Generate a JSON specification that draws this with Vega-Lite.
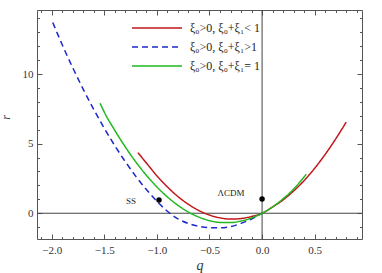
{
  "$schema": "https://vega.github.io/schema/vega-lite/v6.json",
  "width": 325,
  "height": 229,
  "autosize": {"type": "none"},
  "padding": {"left": 37, "top": 10, "right": 20, "bottom": 34},
  "background": "white",
  "config": {
    "view": {"stroke": "#555555", "strokeWidth": 1},
    "axis": {
      "grid": false,
      "domain": false,
      "labelFont": "Liberation Serif",
      "labelFontSize": 11,
      "labelColor": "#333333",
      "tickColor": "#555555",
      "titleFont": "Liberation Serif",
      "titleFontStyle": "italic",
      "titleFontWeight": "normal",
      "titleColor": "#333333"
    },
    "legend": {
      "labelFont": "Liberation Serif",
      "labelFontSize": 12,
      "labelColor": "#222222"
    }
  },
  "datasets": {
    "curves": [
      {"q": -1.18, "r": 4.35, "s": "ξ₀>0, ξ₀+ξ₁< 1"},
      {"q": -1.1, "r": 3.61, "s": "ξ₀>0, ξ₀+ξ₁< 1"},
      {"q": -1.0, "r": 2.69, "s": "ξ₀>0, ξ₀+ξ₁< 1"},
      {"q": -0.9, "r": 1.89, "s": "ξ₀>0, ξ₀+ξ₁< 1"},
      {"q": -0.8, "r": 1.2, "s": "ξ₀>0, ξ₀+ξ₁< 1"},
      {"q": -0.7, "r": 0.64, "s": "ξ₀>0, ξ₀+ξ₁< 1"},
      {"q": -0.6, "r": 0.19, "s": "ξ₀>0, ξ₀+ξ₁< 1"},
      {"q": -0.5, "r": -0.13, "s": "ξ₀>0, ξ₀+ξ₁< 1"},
      {"q": -0.4, "r": -0.33, "s": "ξ₀>0, ξ₀+ξ₁< 1"},
      {"q": -0.3, "r": -0.42, "s": "ξ₀>0, ξ₀+ξ₁< 1"},
      {"q": -0.2, "r": -0.38, "s": "ξ₀>0, ξ₀+ξ₁< 1"},
      {"q": -0.1, "r": -0.23, "s": "ξ₀>0, ξ₀+ξ₁< 1"},
      {"q": 0.0, "r": 0.0, "s": "ξ₀>0, ξ₀+ξ₁< 1"},
      {"q": 0.1, "r": 0.45, "s": "ξ₀>0, ξ₀+ξ₁< 1"},
      {"q": 0.2, "r": 0.96, "s": "ξ₀>0, ξ₀+ξ₁< 1"},
      {"q": 0.3, "r": 1.6, "s": "ξ₀>0, ξ₀+ξ₁< 1"},
      {"q": 0.4, "r": 2.35, "s": "ξ₀>0, ξ₀+ξ₁< 1"},
      {"q": 0.5, "r": 3.23, "s": "ξ₀>0, ξ₀+ξ₁< 1"},
      {"q": 0.6, "r": 4.23, "s": "ξ₀>0, ξ₀+ξ₁< 1"},
      {"q": 0.7, "r": 5.34, "s": "ξ₀>0, ξ₀+ξ₁< 1"},
      {"q": 0.8, "r": 6.55, "s": "ξ₀>0, ξ₀+ξ₁< 1"},
      {"q": -1.99, "r": 13.7, "s": "ξ₀>0, ξ₀+ξ₁>1"},
      {"q": -1.9, "r": 12.1, "s": "ξ₀>0, ξ₀+ξ₁>1"},
      {"q": -1.8, "r": 10.45, "s": "ξ₀>0, ξ₀+ξ₁>1"},
      {"q": -1.7, "r": 8.9, "s": "ξ₀>0, ξ₀+ξ₁>1"},
      {"q": -1.6, "r": 7.45, "s": "ξ₀>0, ξ₀+ξ₁>1"},
      {"q": -1.5, "r": 6.1, "s": "ξ₀>0, ξ₀+ξ₁>1"},
      {"q": -1.4, "r": 4.85, "s": "ξ₀>0, ξ₀+ξ₁>1"},
      {"q": -1.3, "r": 3.7, "s": "ξ₀>0, ξ₀+ξ₁>1"},
      {"q": -1.2, "r": 2.65, "s": "ξ₀>0, ξ₀+ξ₁>1"},
      {"q": -1.1, "r": 1.7, "s": "ξ₀>0, ξ₀+ξ₁>1"},
      {"q": -1.0, "r": 0.86, "s": "ξ₀>0, ξ₀+ξ₁>1"},
      {"q": -0.9, "r": 0.14, "s": "ξ₀>0, ξ₀+ξ₁>1"},
      {"q": -0.8, "r": -0.4, "s": "ξ₀>0, ξ₀+ξ₁>1"},
      {"q": -0.7, "r": -0.74, "s": "ξ₀>0, ξ₀+ξ₁>1"},
      {"q": -0.6, "r": -0.94, "s": "ξ₀>0, ξ₀+ξ₁>1"},
      {"q": -0.5, "r": -1.03, "s": "ξ₀>0, ξ₀+ξ₁>1"},
      {"q": -0.4, "r": -1.05, "s": "ξ₀>0, ξ₀+ξ₁>1"},
      {"q": -0.3, "r": -0.96, "s": "ξ₀>0, ξ₀+ξ₁>1"},
      {"q": -0.2, "r": -0.73, "s": "ξ₀>0, ξ₀+ξ₁>1"},
      {"q": -0.1, "r": -0.41, "s": "ξ₀>0, ξ₀+ξ₁>1"},
      {"q": 0.0, "r": 0.0, "s": "ξ₀>0, ξ₀+ξ₁>1"},
      {"q": -1.54, "r": 7.9, "s": "ξ₀>0, ξ₀+ξ₁= 1"},
      {"q": -1.5, "r": 7.26, "s": "ξ₀>0, ξ₀+ξ₁= 1"},
      {"q": -1.4, "r": 5.95, "s": "ξ₀>0, ξ₀+ξ₁= 1"},
      {"q": -1.3, "r": 4.76, "s": "ξ₀>0, ξ₀+ξ₁= 1"},
      {"q": -1.2, "r": 3.68, "s": "ξ₀>0, ξ₀+ξ₁= 1"},
      {"q": -1.1, "r": 2.73, "s": "ξ₀>0, ξ₀+ξ₁= 1"},
      {"q": -1.0, "r": 1.89, "s": "ξ₀>0, ξ₀+ξ₁= 1"},
      {"q": -0.9, "r": 1.17, "s": "ξ₀>0, ξ₀+ξ₁= 1"},
      {"q": -0.8, "r": 0.57, "s": "ξ₀>0, ξ₀+ξ₁= 1"},
      {"q": -0.7, "r": 0.08, "s": "ξ₀>0, ξ₀+ξ₁= 1"},
      {"q": -0.6, "r": -0.28, "s": "ξ₀>0, ξ₀+ξ₁= 1"},
      {"q": -0.5, "r": -0.53, "s": "ξ₀>0, ξ₀+ξ₁= 1"},
      {"q": -0.4, "r": -0.66, "s": "ξ₀>0, ξ₀+ξ₁= 1"},
      {"q": -0.3, "r": -0.67, "s": "ξ₀>0, ξ₀+ξ₁= 1"},
      {"q": -0.2, "r": -0.56, "s": "ξ₀>0, ξ₀+ξ₁= 1"},
      {"q": -0.1, "r": -0.34, "s": "ξ₀>0, ξ₀+ξ₁= 1"},
      {"q": 0.0, "r": 0.0, "s": "ξ₀>0, ξ₀+ξ₁= 1"},
      {"q": 0.1, "r": 0.46, "s": "ξ₀>0, ξ₀+ξ₁= 1"},
      {"q": 0.2, "r": 1.04, "s": "ξ₀>0, ξ₀+ξ₁= 1"},
      {"q": 0.3, "r": 1.74, "s": "ξ₀>0, ξ₀+ξ₁= 1"},
      {"q": 0.42, "r": 2.8, "s": "ξ₀>0, ξ₀+ξ₁= 1"}
    ],
    "pts": [
      {"q": -0.98, "r": 0.95, "name": "SS"},
      {"q": 0.0, "r": 1.03, "name": "ΛCDM"}
    ],
    "zero": [{"v": 0}]
  },
  "resolve": {"axis": {"x": "independent", "y": "independent"}},
  "layer": [
    {
      "data": {"name": "zero"},
      "mark": {"type": "rule", "color": "#444444", "strokeWidth": 1},
      "encoding": {
        "x": {"field": "v", "type": "quantitative", "axis": null, "scale": {"domain": [-2.14, 0.95], "nice": false, "zero": false}}
      }
    },
    {
      "data": {"name": "zero"},
      "mark": {"type": "rule", "color": "#444444", "strokeWidth": 1},
      "encoding": {
        "y": {"field": "v", "type": "quantitative", "axis": null, "scale": {"domain": [-1.85, 14.6], "nice": false, "zero": false}}
      }
    },
    {
      "data": {"name": "curves"},
      "mark": {"type": "line", "strokeWidth": 1.5, "interpolate": "monotone"},
      "encoding": {
        "x": {"field": "q", "type": "quantitative", "title": "q",
          "axis": {"orient": "bottom", "values": [-2, -1.5, -1, -0.5, 0, 0.5], "format": ".1f", "tickSize": -5, "labelPadding": 10, "labelFont": "Liberation Serif", "labelFontSize": 11, "titleFontSize": 14, "titlePadding": 3}},
        "y": {"field": "r", "type": "quantitative", "title": "r",
          "axis": {"orient": "left", "values": [0, 5, 10], "tickSize": -5, "labelPadding": 9, "labelFont": "Liberation Serif", "labelFontSize": 11, "titleFontSize": 12, "titleY": 107, "titleX": -25}},
        "color": {"field": "s", "type": "nominal", "title": null,
          "scale": {"domain": ["ξ₀>0, ξ₀+ξ₁< 1", "ξ₀>0, ξ₀+ξ₁>1", "ξ₀>0, ξ₀+ξ₁= 1"], "range": ["#c0161c", "#1c28c8", "#1fb81f"]},
          "legend": {"orient": "none", "legendX": 114, "legendY": 12, "symbolType": "M-5,0H5", "symbolSize": 100, "symbolStrokeWidth": 1.5, "symbolFillColor": "transparent", "rowPadding": 7, "labelOffset": 27}},
        "strokeDash": {"field": "s", "type": "nominal", "title": null,
          "scale": {"domain": ["ξ₀>0, ξ₀+ξ₁< 1", "ξ₀>0, ξ₀+ξ₁>1", "ξ₀>0, ξ₀+ξ₁= 1"], "range": [[1, 0], [6, 4], [1, 0]]}}
      }
    },
    {
      "data": {"name": "pts"},
      "mark": {"type": "point", "filled": true, "color": "black", "size": 30, "opacity": 1},
      "encoding": {
        "x": {"field": "q", "type": "quantitative", "axis": {"orient": "bottom", "values": [-2.1, -1.9, -1.8, -1.7, -1.6, -1.4, -1.3, -1.2, -1.1, -0.9, -0.8, -0.7, -0.6, -0.4, -0.3, -0.2, -0.1, 0.1, 0.2, 0.3, 0.4, 0.6, 0.7, 0.8, 0.9], "tickSize": -2.5, "labels": false, "title": null}},
        "y": {"field": "r", "type": "quantitative", "axis": {"orient": "left", "values": [-1, 1, 2, 3, 4, 6, 7, 8, 9, 11, 12, 13, 14], "tickSize": -2.5, "labels": false, "title": null}}
      }
    },
    {
      "data": {"name": "pts"},
      "transform": [{"filter": "datum.name == 'SS'"}],
      "mark": {"type": "text", "font": "Liberation Serif", "fontSize": 9, "dx": -28, "dy": 1, "color": "#222222"},
      "encoding": {
        "x": {"field": "q", "type": "quantitative", "axis": {"orient": "top", "values": [-2, -1.5, -1, -0.5, 0, 0.5], "tickSize": -5, "labels": false, "title": null}},
        "y": {"field": "r", "type": "quantitative", "axis": {"orient": "right", "values": [0, 5, 10], "tickSize": -5, "labels": false, "title": null}},
        "text": {"field": "name"}
      }
    },
    {
      "data": {"name": "pts"},
      "transform": [{"filter": "datum.name == 'ΛCDM'"}],
      "mark": {"type": "text", "font": "Liberation Serif", "fontSize": 9, "dx": -31, "dy": -6, "color": "#222222"},
      "encoding": {
        "x": {"field": "q", "type": "quantitative", "axis": {"orient": "top", "values": [-2.1, -1.9, -1.8, -1.7, -1.6, -1.4, -1.3, -1.2, -1.1, -0.9, -0.8, -0.7, -0.6, -0.4, -0.3, -0.2, -0.1, 0.1, 0.2, 0.3, 0.4, 0.6, 0.7, 0.8, 0.9], "tickSize": -2.5, "labels": false, "title": null}},
        "y": {"field": "r", "type": "quantitative", "axis": {"orient": "right", "values": [-1, 1, 2, 3, 4, 6, 7, 8, 9, 11, 12, 13, 14], "tickSize": -2.5, "labels": false, "title": null}},
        "text": {"field": "name"}
      }
    }
  ]
}
